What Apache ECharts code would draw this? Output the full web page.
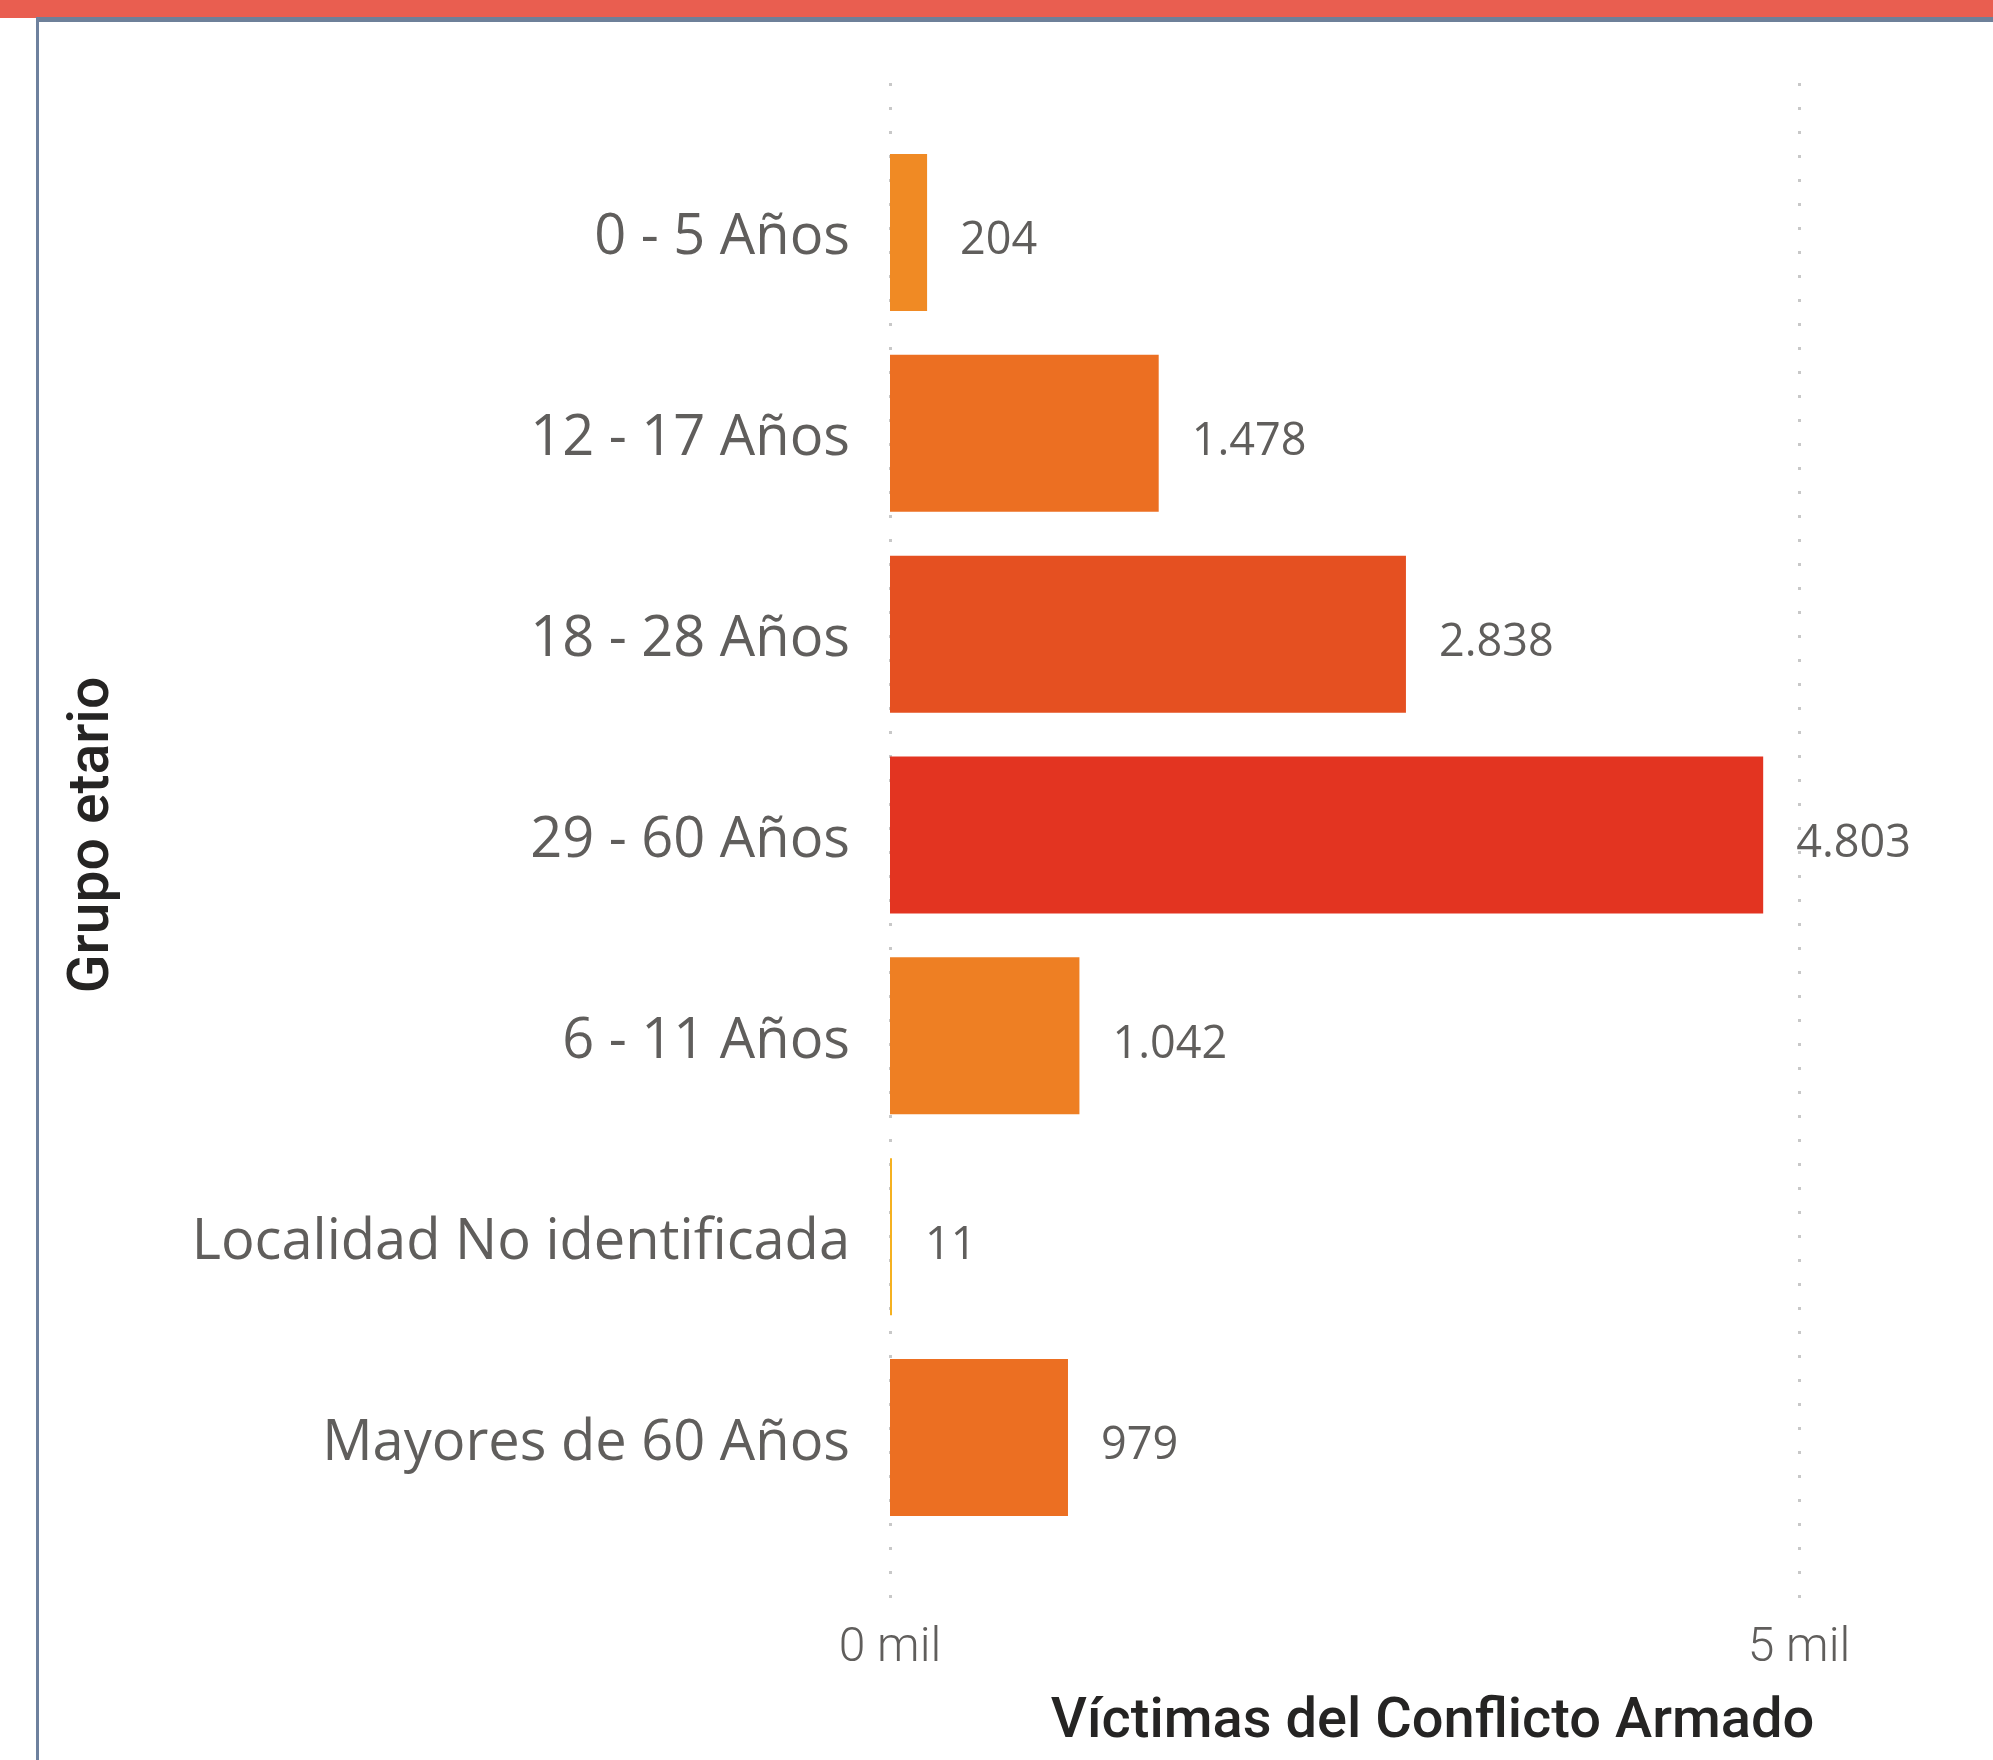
<!DOCTYPE html>
<html>
<head>
<meta charset="utf-8">
<script src="https://cdn.jsdelivr.net/npm/echarts@6/dist/echarts.min.js"></script>
<style>
    html, body { margin: 0; padding: 0; background: #fff; }
    #chart { width: 1993px; height: 1760px; }
</style>
</head>
<body>
<div id="chart"></div>
<script>
    // datos
    var categorias = ['0 - 5 Años', '12 - 17 Años', '18 - 28 Años', '29 - 60 Años',
        '6 - 11 Años', 'Localidad No identificada', 'Mayores de 60 Años'];
    var victimas = [204, 1478, 2838, 4803, 1042, 11, 979];
    var ticksX = [0, 5000];

    var colores = ['#F08A24', '#EC6F22', '#E55021', '#E33421', '#EE7F23', '#F5B120', '#EC6F22'];

    function miles(v) {
        return String(v).replace(/\B(?=(\d{3})+(?!\d))/g, '.');
    }

    var myChart = echarts.init(document.getElementById('chart'));

    var option = {
        backgroundColor: '#fff',
        animation: false,
        graphic: [
            { type: 'rect', shape: { x: 0, y: 0, width: 1993, height: 18 }, style: { fill: '#E95E50' } },
            { type: 'rect', shape: { x: 36, y: 17, width: 1957, height: 5 }, style: { fill: '#6E8099' } },
            { type: 'rect', shape: { x: 36, y: 17, width: 3, height: 1743 }, style: { fill: '#6E819E' } }
        ],
        grid: [
            { left: 890, right: 194, top: 83, bottom: 159 },
            { left: 890, right: 194, top: 132, bottom: 222 }
        ],
        xAxis: [{
            gridIndex: 0,
            type: 'value',
            min: ticksX[0],
            max: ticksX[ticksX.length - 1],
            interval: 5000,
            axisLine: { show: false },
            axisTick: { show: false },
            axisLabel: {
                margin: 24,
                fontFamily: 'Roboto',
                fontWeight: 300,
                fontSize: 48,
                color: '#605E5C',
                formatter: function (v) { return (v / 1000) + ' mil'; }
            },
            splitLine: {
                show: true,
                lineStyle: { color: '#C8C8C8', width: 3, type: [3, 21] }
            },
            name: 'Víctimas del Conflicto Armado',
            nameLocation: 'middle',
            nameGap: 94,
            nameTextStyle: {
                fontFamily: 'Roboto',
                fontWeight: 500,
                fontSize: 56,
                color: '#252423',
                padding: [0, 0, 0, 176]
            }
        }, {
            gridIndex: 1,
            type: 'value',
            min: ticksX[0],
            max: ticksX[ticksX.length - 1],
            show: false
        }],
        yAxis: [{
            gridIndex: 0,
            type: 'value',
            show: false
        }, {
            gridIndex: 1,
            type: 'category',
            inverse: true,
            data: categorias,
            axisLine: { show: false },
            axisTick: { show: false },
            axisLabel: {
                margin: 40,
                formatter: function (v) { return '{c|' + v + '}'; },
                rich: {
                    c: {
                        fontFamily: 'Open Sans',
                        fontSize: 56,
                        color: '#605E5C',
                        padding: [12, 0, 0, 0]
                    }
                }
            },
            name: 'Grupo etario',
            nameLocation: 'middle',
            nameRotate: 90,
            nameGap: 768,
            nameTextStyle: {
                fontFamily: 'Roboto',
                fontWeight: 500,
                fontSize: 57,
                color: '#252423'
            }
        }],
        series: [{
            type: 'bar',
            xAxisIndex: 1,
            yAxisIndex: 1,
            data: victimas,
            barWidth: 157,
            itemStyle: {
                color: function (p) { return colores[p.dataIndex]; }
            },
            label: {
                show: true,
                position: 'right',
                distance: 33,
                offset: [0, 9],
                fontFamily: 'Open Sans',
                fontSize: 45,
                color: '#605E5C',
                formatter: function (p) { return miles(p.value); }
            }
        }]
    };

    myChart.setOption(option);
</script>
</body>
</html>
